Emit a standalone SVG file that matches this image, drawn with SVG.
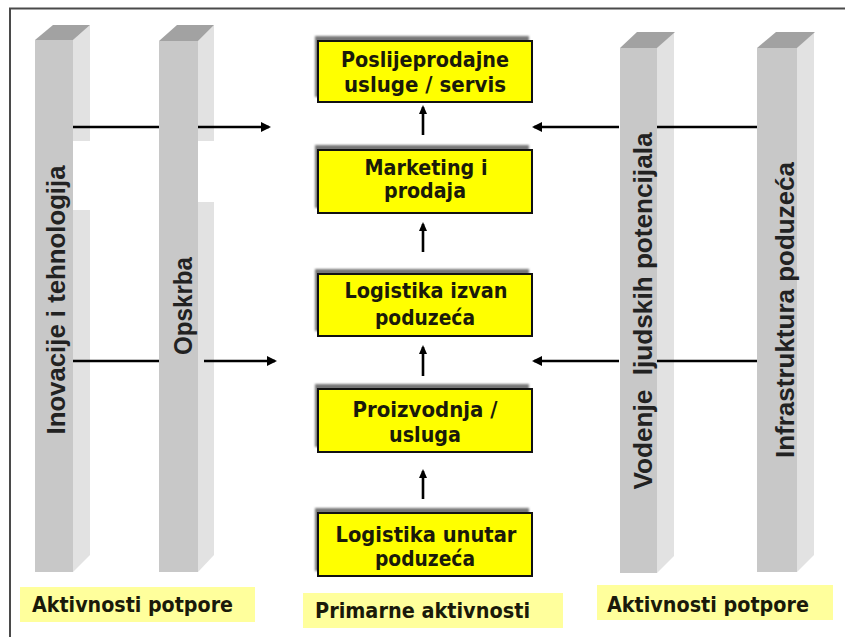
<svg xmlns="http://www.w3.org/2000/svg" width="845" height="637" viewBox="0 0 845 637">
<style>
.front{fill:#c8c8c8}
.side{fill:#e2e2e2}
.cap{fill:#a2a2a2}
.vt{font-family:"Liberation Sans",Arial,sans-serif;font-weight:bold;font-size:25px;fill:#222;text-anchor:middle}
.box{fill:#ffff00;stroke:#111;stroke-width:2}
.shadow{fill:#777;filter:url(#blur)}
.bt{font-family:"DejaVu Sans",Verdana,sans-serif;font-weight:bold;font-size:21px;fill:#1a1a0a;text-anchor:middle}
.lab{fill:#ffff9c}
.lt{font-family:"DejaVu Sans",Verdana,sans-serif;font-weight:bold;font-size:21px;fill:#1a1a0a}
.conn{stroke:#000;stroke-width:2.6;fill:none}
</style>
<defs>
<filter id="blur" x="-10%" y="-20%" width="120%" height="140%"><feGaussianBlur stdDeviation="1.2"/></filter>
<marker id="ah" markerWidth="10" markerHeight="10" refX="8" refY="5" orient="auto" markerUnits="userSpaceOnUse" viewBox="0 0 10 10">
<path d="M0,0 L10,5 L0,10 z" fill="#000"/>
</marker>
<marker id="ahs" markerWidth="9" markerHeight="10" refX="7" refY="5" orient="auto" markerUnits="userSpaceOnUse" viewBox="0 0 9 10">
<path d="M0,1 L9,5 L0,9 z" fill="#000"/>
</marker>
</defs>
<rect x="0" y="0" width="845" height="637" fill="#fff"/>
<path d="M10,637 L10,8.5 L845,8.5" fill="none" stroke="#4a4a4a" stroke-width="2"/>

<g id="pillar-inovacije">
<polygon class="front" points="35,40 73,40 73,572 35,572"/>
<polygon class="side" points="73,40 90,25 90,141 73,141"/>
<polygon class="side" points="73,210 90,210 90,555 73,572"/>
<polygon class="cap" points="35,40 73,40 90,25 53,25"/>
<text class="vt" transform="translate(65,300) rotate(-90)" textLength="269" lengthAdjust="spacingAndGlyphs">Inovacije i tehnologija</text>
</g>
<g id="pillar-opskrba">
<polygon class="front" points="159,41 198,41 198,572 159,572"/>
<polygon class="side" points="198,41 214,25 214,141 198,141"/>
<polygon class="side" points="198,202 214,202 214,555 198,572"/>
<polygon class="cap" points="159,41 198,41 214,25 177,25"/>
<text class="vt" transform="translate(192,306) rotate(-90)" textLength="98" lengthAdjust="spacingAndGlyphs">Opskrba</text>
</g>
<g id="pillar-vodenje">
<polygon class="front" points="620,48 657,48 657,573 620,573"/>
<polygon class="side" points="657,48 674,32 674,556 657,573"/>
<polygon class="cap" points="620,48 657,48 675,32 637,32"/>
<text class="vt" transform="translate(652,311) rotate(-90)" textLength="357" lengthAdjust="spacingAndGlyphs" xml:space="preserve">Vodenje  ljudskih potencijala</text>
</g>
<g id="pillar-infrastruktura">
<polygon class="front" points="757,48 797,48 797,572 757,572"/>
<polygon class="side" points="797,48 814,32 814,555 797,572"/>
<polygon class="cap" points="757,48 797,48 815,32 776,32"/>
<text class="vt" transform="translate(794,310) rotate(-90)" textLength="296" lengthAdjust="spacingAndGlyphs">Infrastruktura poduzeća</text>
</g>

<g id="box-poslijeprodajne">
<rect class="shadow" x="315" y="36" width="214" height="61"/>
<rect class="box" x="318" y="41" width="214" height="61"/>
<text class="bt" x="425" y="67" textLength="168" lengthAdjust="spacingAndGlyphs">Poslijeprodajne</text>
<text class="bt" x="425" y="92" textLength="162" lengthAdjust="spacingAndGlyphs">usluge / servis</text>
</g>
<g id="box-marketing">
<rect class="shadow" x="315" y="145" width="214" height="63"/>
<rect class="box" x="318" y="150" width="214" height="63"/>
<text class="bt" x="426" y="175" textLength="123" lengthAdjust="spacingAndGlyphs">Marketing i</text>
<text class="bt" x="425" y="198" textLength="82" lengthAdjust="spacingAndGlyphs">prodaja</text>
</g>
<g id="box-logistika-izvan">
<rect class="shadow" x="315" y="269" width="214" height="62"/>
<rect class="box" x="318" y="274" width="214" height="62"/>
<text class="bt" x="426" y="298" textLength="163" lengthAdjust="spacingAndGlyphs">Logistika izvan</text>
<text class="bt" x="425" y="325" textLength="100" lengthAdjust="spacingAndGlyphs">poduzeća</text>
</g>
<g id="box-proizvodnja">
<rect class="shadow" x="315" y="384" width="214" height="63"/>
<rect class="box" x="318" y="389" width="214" height="63"/>
<text class="bt" x="425" y="417" textLength="145" lengthAdjust="spacingAndGlyphs">Proizvodnja /</text>
<text class="bt" x="425" y="442" textLength="72" lengthAdjust="spacingAndGlyphs">usluga</text>
</g>
<g id="box-logistika-unutar">
<rect class="shadow" x="315" y="508" width="214" height="63"/>
<rect class="box" x="318" y="513" width="214" height="63"/>
<text class="bt" x="426" y="542" textLength="181" lengthAdjust="spacingAndGlyphs">Logistika unutar</text>
<text class="bt" x="425" y="566" textLength="100" lengthAdjust="spacingAndGlyphs">poduzeća</text>
</g>

<g id="label-left">
<rect class="lab" x="20" y="587" width="235" height="35"/>
<text class="lt" x="32" y="612" textLength="201" lengthAdjust="spacingAndGlyphs">Aktivnosti potpore</text>
</g>
<g id="label-middle">
<rect class="lab" x="303" y="593" width="260" height="35"/>
<text class="lt" x="315" y="618" textLength="215" lengthAdjust="spacingAndGlyphs">Primarne aktivnosti</text>
</g>
<g id="label-right">
<rect class="lab" x="597" y="585" width="236" height="35"/>
<text class="lt" x="607" y="612" textLength="202" lengthAdjust="spacingAndGlyphs">Aktivnosti potpore</text>
</g>

<g id="connectors">
<line class="conn" x1="73" y1="127" x2="159" y2="127"/>
<line class="conn" x1="198" y1="127" x2="269" y2="127" marker-end="url(#ah)"/>
<line class="conn" x1="73" y1="361" x2="159" y2="361"/>
<line class="conn" x1="204" y1="361" x2="275" y2="361" marker-end="url(#ah)"/>
<line class="conn" x1="757" y1="127" x2="657" y2="127"/>
<line class="conn" x1="619" y1="127" x2="534" y2="127" marker-end="url(#ah)"/>
<line class="conn" x1="757" y1="361" x2="657" y2="361"/>
<line class="conn" x1="619" y1="361" x2="534" y2="361" marker-end="url(#ah)"/>
<line class="conn" x1="423" y1="135" x2="423" y2="107" marker-end="url(#ahs)"/>
<line class="conn" x1="423" y1="252" x2="423" y2="224" marker-end="url(#ahs)"/>
<line class="conn" x1="423" y1="376" x2="423" y2="347" marker-end="url(#ahs)"/>
<line class="conn" x1="423" y1="499" x2="423" y2="471" marker-end="url(#ahs)"/>
</g>
</svg>
